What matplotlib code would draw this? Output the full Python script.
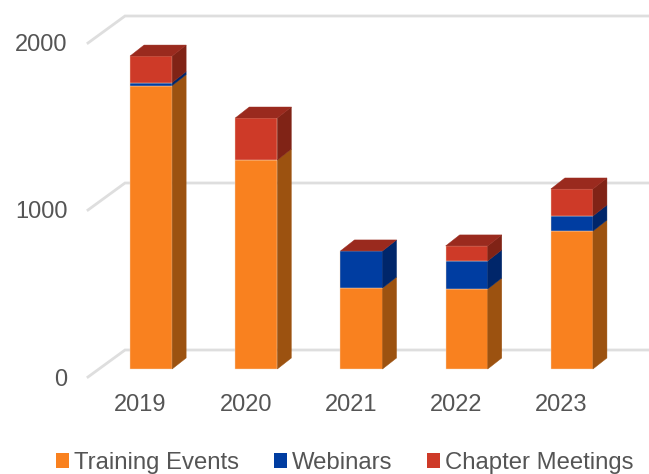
import matplotlib
matplotlib.use("Agg")
import matplotlib.pyplot as plt
from matplotlib.patches import Polygon, Patch
import numpy as np

years = ["2019", "2020", "2021", "2022", "2023"]
training = [1697, 1251, 485, 479, 826]
webinars = [18, 0, 222, 168, 90]
chapter = [159, 252, 0, 90, 162]
series_names = ["Training Events", "Webinars", "Chapter Meetings"]
yticks = [0, 1000, 2000]

front_cols = ["#F9811F", "#003DA1", "#CE3A28"]
side_cols = ["#9C5210", "#00266A", "#802316"]
top_col = "#9A2A1E"
text_col = "#555555"
grid_col = "#DEDEDE"

W, H = 649, 474
DPI = 100
plt.rcParams["font.family"] = ["Liberation Sans", "DejaVu Sans"]
fig = plt.figure(figsize=(W / DPI, H / DPI), dpi=DPI)
ax = fig.add_axes([88 / W, (H - 377) / H, 526 / W, 334 / H])
ax.set_xlim(-0.5, 4.5)
ax.set_ylim(0, 2000)
for s in ax.spines.values():
    s.set_visible(False)
ax.patch.set_alpha(0)

px_x = 526 / 5      # pixels per category
px_y = 334 / 2000   # pixels per value unit
wall_dx, wall_dy = 37 / px_x, 27 / px_y
bar_ox, bar_oy = 10.5 / px_x, 8 / px_y
bar_dx, bar_dy = 14 / px_x, 11 / px_y
bar_w = 0.4

# walls / gridlines
for v in yticks:
    ax.plot([-0.5, -0.5 + wall_dx, 4.5 + wall_dx], [v, v + wall_dy, v + wall_dy],
            color=grid_col, lw=2.0, clip_on=False, zorder=1, solid_joinstyle="miter")

x = np.arange(len(years))
bottom = np.zeros(len(years))
for vals, fc, sc in zip([training, webinars, chapter], front_cols, side_cols):
    vals = np.array(vals, float)
    for xi, b, v in zip(x, bottom, vals):
        if v <= 0:
            continue
        l = xi + bar_ox - bar_w / 2
        r = l + bar_w
        y0 = b + bar_oy
        y1 = y0 + v
        ax.add_patch(Polygon([(l, y0), (r, y0), (r, y1), (l, y1)], closed=True, fc=fc,
                             ec="#F4D9C4", lw=0.3, clip_on=False, zorder=3))
        ax.add_patch(Polygon([(r, y0), (r + bar_dx, y0 + bar_dy), (r + bar_dx, y1 + bar_dy), (r, y1)],
                             closed=True, fc=sc, ec=sc, lw=0.3, clip_on=False, zorder=3))
    bottom = bottom + vals

# bar tops
for xi, total in zip(x, bottom):
    l = xi + bar_ox - bar_w / 2
    r = l + bar_w
    y1 = total + bar_oy
    ax.add_patch(Polygon([(l, y1), (r, y1), (r + bar_dx, y1 + bar_dy), (l + bar_dx, y1 + bar_dy)],
                         closed=True, fc=top_col, ec=top_col, lw=0.3, clip_on=False, zorder=3))

ax.set_xticks(x, years)
ax.set_yticks(yticks, [str(v) for v in yticks])
ax.tick_params(axis="x", length=0, pad=12.2, labelsize=17, labelcolor=text_col)
ax.tick_params(axis="y", length=0, pad=14.6, labelsize=17, labelcolor=text_col)

handles = [Patch(fc=c, ec="none") for c in front_cols]
fig.legend(handles, series_names, loc="lower left", bbox_to_anchor=(56 / W, 0 / H), ncol=3,
           frameon=False, fontsize=17.2, labelcolor=text_col, handlelength=0.55,
           handleheight=0.55, handletextpad=0.2, columnspacing=1.45, borderaxespad=0, borderpad=0)

fig.savefig("out.png", dpi=DPI)
